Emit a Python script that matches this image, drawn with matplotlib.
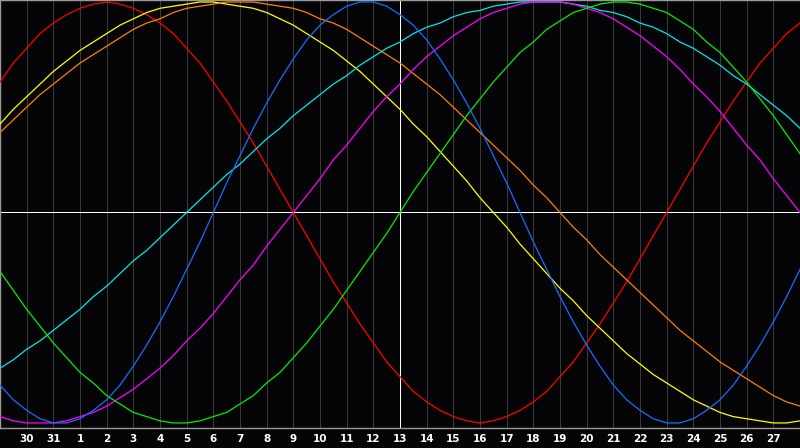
import matplotlib
matplotlib.use("Agg")
import matplotlib.pyplot as plt

# day labels under the grid lines (positions 1..29), today is 13
days = ['30', '31'] + [str(d) for d in range(1, 28)]
today = '13'

# curve values, read every half day from position 0 to 30
physical = [-0.82, -0.89, -0.94, -0.98, -1.00, -1.00, -0.98, -0.94, -0.89,
            -0.82, -0.73, -0.63, -0.52, -0.40, -0.27, -0.14,
            0.00, 0.14, 0.27, 0.40, 0.52, 0.63, 0.73, 0.82, 0.89, 0.94, 0.98,
            1.00, 1.00, 0.98, 0.94, 0.89,
            0.82, 0.73, 0.63, 0.52, 0.40, 0.27, 0.14, 0.00, -0.14, -0.27,
            -0.40, -0.52, -0.63, -0.73, -0.82, -0.89,
            -0.94, -0.98, -1.00, -1.00, -0.98, -0.94, -0.89, -0.82, -0.73,
            -0.63, -0.52, -0.40, -0.27]
emotional = [0.62, 0.71, 0.78, 0.85, 0.90, 0.94, 0.97, 0.99, 1.00, 0.99, 0.97,
             0.94, 0.90, 0.85, 0.78, 0.71,
             0.62, 0.53, 0.43, 0.33, 0.22, 0.11, 0.00, -0.11, -0.22, -0.33,
             -0.43, -0.53, -0.62, -0.71, -0.78, -0.85,
             -0.90, -0.94, -0.97, -0.99, -1.00, -0.99, -0.97, -0.94, -0.90,
             -0.85, -0.78, -0.71, -0.62, -0.53, -0.43, -0.33,
             -0.22, -0.11, 0.00, 0.11, 0.22, 0.33, 0.43, 0.53, 0.62, 0.71,
             0.78, 0.85, 0.90]
intellectual = [-0.28, -0.37, -0.46, -0.54, -0.62, -0.69, -0.76, -0.81, -0.87,
                -0.91, -0.95, -0.97, -0.99, -1.00, -1.00, -0.99,
                -0.97, -0.95, -0.91, -0.87, -0.81, -0.76, -0.69, -0.62, -0.54,
                -0.46, -0.37, -0.28, -0.19, -0.10, 0.00, 0.10,
                0.19, 0.28, 0.37, 0.46, 0.54, 0.62, 0.69, 0.76, 0.81, 0.87,
                0.91, 0.95, 0.97, 0.99, 1.00, 1.00,
                0.99, 0.97, 0.95, 0.91, 0.87, 0.81, 0.76, 0.69, 0.62, 0.54,
                0.46, 0.37, 0.28]
intuitive = [-0.97, -0.99, -1.00, -1.00, -1.00, -0.99, -0.97, -0.95, -0.92,
             -0.88, -0.84, -0.79, -0.74, -0.68, -0.61, -0.55,
             -0.48, -0.40, -0.32, -0.25, -0.16, -0.08, 0.00, 0.08, 0.16, 0.25,
             0.32, 0.40, 0.48, 0.55, 0.61, 0.68,
             0.74, 0.79, 0.84, 0.88, 0.92, 0.95, 0.97, 0.99, 1.00, 1.00, 1.00,
             0.99, 0.97, 0.95, 0.92, 0.88,
             0.84, 0.79, 0.74, 0.68, 0.61, 0.55, 0.48, 0.40, 0.32, 0.25, 0.16,
             0.08, 0.00]
aesthetic = [0.42, 0.49, 0.55, 0.61, 0.67, 0.72, 0.77, 0.81, 0.85, 0.89, 0.92,
             0.95, 0.97, 0.98, 0.99, 1.00,
             1.00, 0.99, 0.98, 0.97, 0.95, 0.92, 0.89, 0.85, 0.81, 0.77, 0.72,
             0.67, 0.61, 0.55, 0.49, 0.42,
             0.36, 0.29, 0.22, 0.15, 0.07, 0.00, -0.07, -0.15, -0.22, -0.29,
             -0.36, -0.42, -0.49, -0.55, -0.61, -0.67,
             -0.72, -0.77, -0.81, -0.85, -0.89, -0.92, -0.95, -0.97, -0.98,
             -0.99, -1.00, -1.00, -0.99]
awareness = [0.38, 0.44, 0.50, 0.56, 0.61, 0.66, 0.71, 0.75, 0.79, 0.83, 0.87,
             0.90, 0.92, 0.95, 0.97, 0.98,
             0.99, 1.00, 1.00, 1.00, 0.99, 0.98, 0.97, 0.95, 0.92, 0.90, 0.87,
             0.83, 0.79, 0.75, 0.71, 0.66,
             0.61, 0.56, 0.50, 0.44, 0.38, 0.32, 0.26, 0.20, 0.13, 0.07, 0.00,
             -0.07, -0.13, -0.20, -0.26, -0.32,
             -0.38, -0.44, -0.50, -0.56, -0.61, -0.66, -0.71, -0.75, -0.79,
             -0.83, -0.87, -0.90, -0.92]
spiritual = [-0.74, -0.70, -0.65, -0.61, -0.56, -0.51, -0.46, -0.40, -0.35,
             -0.29, -0.23, -0.18, -0.12, -0.06, 0.00, 0.06,
             0.12, 0.18, 0.23, 0.29, 0.35, 0.40, 0.46, 0.51, 0.56, 0.61, 0.65,
             0.70, 0.74, 0.78, 0.81, 0.85,
             0.88, 0.90, 0.93, 0.95, 0.96, 0.98, 0.99, 1.00, 1.00, 1.00, 1.00,
             0.99, 0.98, 0.96, 0.95, 0.93,
             0.90, 0.88, 0.85, 0.81, 0.78, 0.74, 0.70, 0.65, 0.61, 0.56, 0.51,
             0.46, 0.40]

curves = [
    (emotional, '#ff0000'),
    (aesthetic, '#ffff00'),
    (awareness, '#ff8000'),
    (spiritual, '#00e8e8'),
    (intuitive, '#ff00ff'),
    (intellectual, '#00ee00'),
    (physical, '#1a6cff'),
]

bg = '#050508'
fig = plt.figure(figsize=(8, 4.48), dpi=100, facecolor=bg)
ax = fig.add_axes([0, 20 / 448, 1, 428 / 448])
ax.set_facecolor(bg)

xs = [i / 2 for i in range(len(physical))]
ax.set_xlim(0, 30)
ax.set_ylim(-1.024, 1.0095)

for x in range(1, 30):
    ax.axvline(x, color='#3a3a3a', lw=0.5, antialiased=False, zorder=1)
ax.axhline(0, color='white', lw=0.6, antialiased=False, zorder=2)
ax.axvline(days.index(today) + 1, color='white', lw=0.6, antialiased=False,
           zorder=2)

for vals, col in curves:
    ax.plot(xs, vals, color=col, lw=0.9, zorder=3)

ax.set_yticks([])
ax.set_xticks(range(1, 30))
ax.set_xticklabels(days, color='white', fontsize=7.5, fontweight='bold')
ax.tick_params(axis='x', length=0, pad=4)
for side in ['left', 'top', 'bottom']:
    ax.spines[side].set_color('#9a9a9a')
    ax.spines[side].set_linewidth(1.0)
ax.spines['right'].set_visible(False)

fig.savefig('out.png', facecolor=bg)
